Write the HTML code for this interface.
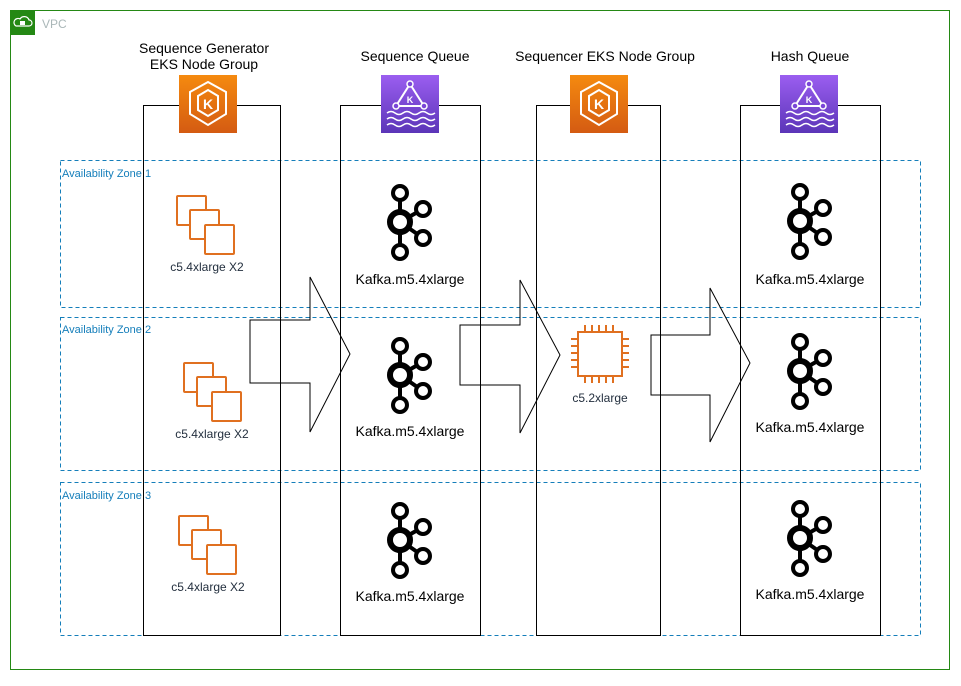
<!DOCTYPE html>
<html><head><meta charset="utf-8"><style>
body{margin:0;background:#fff}
svg text{font-family:"Liberation Sans",sans-serif}
</style></head><body>
<svg width="961" height="681" viewBox="0 0 961 681" xmlns="http://www.w3.org/2000/svg">
<defs>
<g id="kafka" fill="none" stroke="#000">
<line x1="0" y1="-29" x2="0" y2="30" stroke-width="4"/>
<line x1="0" y1="0" x2="23" y2="-13" stroke-width="4"/>
<line x1="0" y1="0" x2="23" y2="16" stroke-width="4"/>
<circle cx="0" cy="0" r="10" stroke-width="6" fill="#fff"/>
<circle cx="0" cy="-29" r="7" stroke-width="4" fill="#fff"/>
<circle cx="0" cy="30" r="7" stroke-width="4" fill="#fff"/>
<circle cx="23" cy="-13" r="7" stroke-width="4" fill="#fff"/>
<circle cx="23" cy="16" r="7" stroke-width="4" fill="#fff"/>
</g>
<g id="ec2" fill="#fff" stroke="#e07020" stroke-width="2">
<rect x="0" y="0" width="29" height="29" rx="1"/>
<rect x="13" y="14" width="29" height="29" rx="1"/>
<rect x="28" y="29" width="29" height="29" rx="1"/>
</g>
<linearGradient id="og" x1="0" y1="0" x2="0" y2="1"><stop offset="0" stop-color="#f58a0f"/><stop offset="1" stop-color="#d45b12"/></linearGradient>
<linearGradient id="pg" x1="0" y1="0" x2="0" y2="1"><stop offset="0" stop-color="#9b5ef0"/><stop offset="1" stop-color="#5b35b8"/></linearGradient>
<g id="eks">
<rect width="58" height="58" fill="url(#og)"/>
<polygon points="29,7 47,17 47,39 29,50 11,39 11,17" fill="none" stroke="#fff" stroke-width="2"/>
<polygon points="29,15 39,21 39,35 29,41 19,35 19,21" fill="none" stroke="#fff" stroke-width="2"/>
<text x="29" y="34" font-size="14" fill="#fff" text-anchor="middle" font-weight="bold">K</text>
</g>
<g id="msk">
<rect width="58" height="58" fill="url(#pg)"/>
<polygon points="29,9 43,31 15,31" fill="none" stroke="#fff" stroke-width="2"/>
<circle cx="29" cy="9" r="3" fill="#7b46d8" stroke="#fff" stroke-width="1.5"/>
<circle cx="15" cy="31" r="3" fill="#7b46d8" stroke="#fff" stroke-width="1.5"/>
<circle cx="43" cy="31" r="3" fill="#7b46d8" stroke="#fff" stroke-width="1.5"/>
<text x="29" y="28" font-size="9" fill="#fff" text-anchor="middle" font-weight="bold">K</text>
<path d="M6 38 q4 -3 8 0 t8 0 t8 0 t8 0 t8 0 t8 0 M6 44 q4 -3 8 0 t8 0 t8 0 t8 0 t8 0 t8 0 M6 50 q4 -3 8 0 t8 0 t8 0 t8 0 t8 0 t8 0" fill="none" stroke="#fff" stroke-width="1.5"/>
</g>
</defs>
<rect x="10.5" y="10.5" width="939" height="659" fill="none" stroke="#248814" stroke-width="1"/>
<rect x="10" y="10" width="25" height="25" fill="#248814"/>
<path d="M16 26 h13 a3 3 0 0 0 0 -6 a5 5 0 0 0 -9 -1 a3.5 3.5 0 0 0 -4 7z" fill="none" stroke="#fff" stroke-width="1.2"/>
<rect x="20" y="21" width="5" height="4" fill="#fff"/>
<text x="42" y="28" font-size="12" fill="#aab7b8">VPC</text>
<g fill="none" stroke="#147eba" stroke-dasharray="4 3" stroke-width="1">
<rect x="60.5" y="160.5" width="860" height="147"/>
<rect x="60.5" y="317.5" width="860" height="153"/>
<rect x="60.5" y="482.5" width="860" height="153"/>
</g>
<g font-size="11" fill="#147eba">
<text x="62" y="177">Availability Zone 1</text>
<text x="62" y="333">Availability Zone 2</text>
<text x="62" y="499">Availability Zone 3</text>
</g>
<g fill="none" stroke="#000" stroke-width="1">
<rect x="143.5" y="105.5" width="137" height="530"/>
<rect x="340.5" y="105.5" width="140" height="530"/>
<rect x="536.5" y="105.5" width="124" height="530"/>
<rect x="740.5" y="105.5" width="140" height="530"/>
</g>
<g fill="none" stroke="#000" stroke-width="1">
<path d="M250 320 H310 V277 L350 354 L310 432 V383 H250 Z"/>
<path d="M460 325 H520 V280 L560 355 L520 433 V385 H460 Z"/>
<path d="M651 335 H710 V288 L750 363 L710 442 V395 H651 Z"/>
</g>
<g font-size="14" fill="#000" text-anchor="middle">
<text x="204" y="53">Sequence Generator</text>
<text x="204" y="69">EKS Node Group</text>
<text x="415" y="61">Sequence Queue</text>
<text x="605" y="61">Sequencer EKS Node Group</text>
<text x="810" y="61">Hash Queue</text>
</g>
<use href="#eks" x="179" y="75"/>
<use href="#msk" x="381" y="75"/>
<use href="#eks" x="570" y="75"/>
<use href="#msk" x="780" y="75"/>
<use href="#ec2" x="177" y="196"/>
<use href="#ec2" x="184" y="363"/>
<use href="#ec2" x="179" y="516"/>
<g font-size="12" fill="#232f3e" text-anchor="middle">
<text x="207" y="271">c5.4xlarge X2</text>
<text x="212" y="438">c5.4xlarge X2</text>
<text x="208" y="591">c5.4xlarge X2</text>
<text x="600" y="402">c5.2xlarge</text>
</g>
<g stroke="#e07020" stroke-width="2" fill="none">
<rect x="578" y="332" width="44" height="44"/>
<path d="M585 325v7M592 325v7M599 325v7M606 325v7M613 325v7M585 376v7M592 376v7M599 376v7M606 376v7M613 376v7M571 339h7M571 346h7M571 353h7M571 360h7M571 367h7M622 339h7M622 346h7M622 353h7M622 360h7M622 367h7"/>
</g>
<use href="#kafka" x="400" y="222"/>
<use href="#kafka" x="400" y="375"/>
<use href="#kafka" x="400" y="540"/>
<use href="#kafka" x="800" y="221"/>
<use href="#kafka" x="800" y="371"/>
<use href="#kafka" x="800" y="538"/>
<g font-size="14" fill="#000" text-anchor="middle">
<text x="410" y="284">Kafka.m5.4xlarge</text>
<text x="410" y="436">Kafka.m5.4xlarge</text>
<text x="410" y="601">Kafka.m5.4xlarge</text>
<text x="810" y="284">Kafka.m5.4xlarge</text>
<text x="810" y="432">Kafka.m5.4xlarge</text>
<text x="810" y="599">Kafka.m5.4xlarge</text>
</g>
</svg>
</body></html>
